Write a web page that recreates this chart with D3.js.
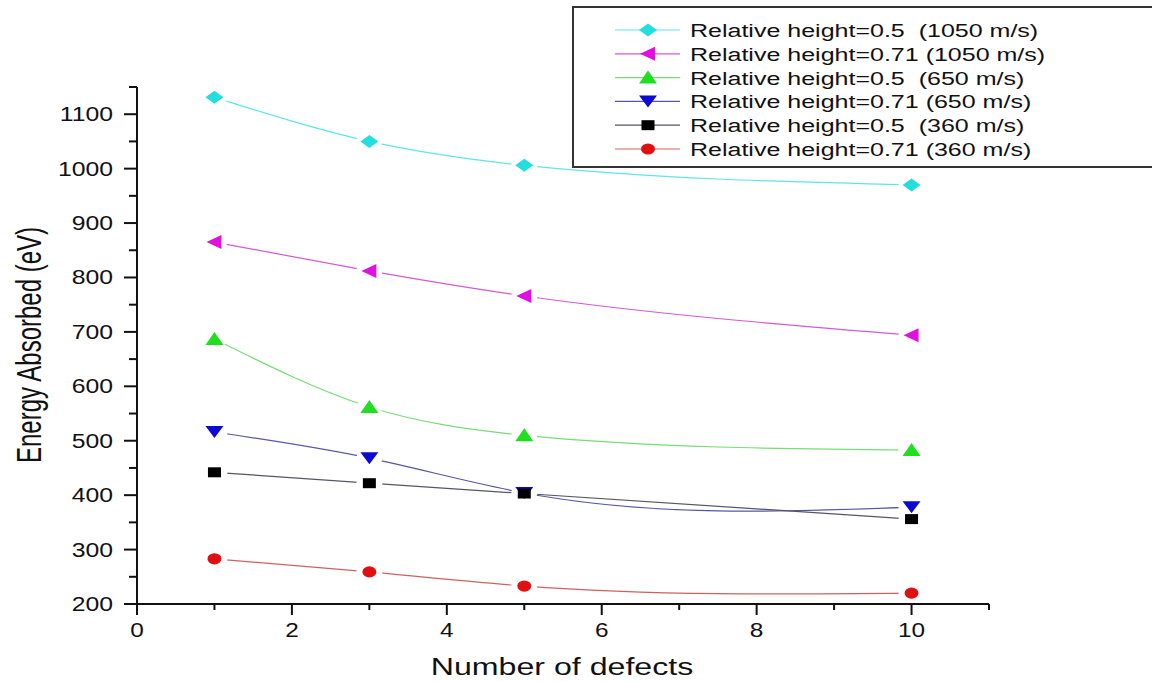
<!DOCTYPE html>
<meta charset="utf-8">
<script src="https://d3js.org/d3.v7.min.js"></script>
<style>
  body { margin: 0; background: #fff; }
  text { font-family: "Liberation Sans", Arial, sans-serif; fill: #111; }
</style>
<body>
<div id="my_dataviz"></div>
<script>
// data
var defects = [1, 3, 5, 10];
var h05_1050 = [1131, 1050, 1006, 970];
var h071_1050 = [865, 812, 766, 694];
var h05_650 = [687, 562, 510, 483];
var h071_650 = [516, 468, 404, 378];
var h05_360 = [442, 422, 403, 356];
var h071_360 = [283, 259, 233, 220];
var seriesNames = [
  "Relative height=0.5  (1050 m/s)",
  "Relative height=0.71 (1050 m/s)",
  "Relative height=0.5  (650 m/s)",
  "Relative height=0.71 (650 m/s)",
  "Relative height=0.5  (360 m/s)",
  "Relative height=0.71 (360 m/s)"
];
var xTicks = [0, 2, 4, 6, 8, 10];
var yTicks = [200, 300, 400, 500, 600, 700, 800, 900, 1000, 1100];

var series = [
  {name: seriesNames[0], values: h05_1050, line: "#5ee6e6", fill: "#22dede", sym: "diamond"},
  {name: seriesNames[1], values: h071_1050, line: "#d35ad3", fill: "#e010e0", sym: "left"},
  {name: seriesNames[2], values: h05_650, line: "#77dd77", fill: "#1ee01e", sym: "up"},
  {name: seriesNames[3], values: h071_650, line: "#5555aa", fill: "#0a0ad0", sym: "down"},
  {name: seriesNames[4], values: h05_360, line: "#555566", fill: "#000000", sym: "square"},
  {name: seriesNames[5], values: h071_360, line: "#d06060", fill: "#e01010", sym: "circle"}
];

var W = 1152, H = 682;
var svg = d3.select("#my_dataviz").append("svg")
  .attr("width", W).attr("height", H);

var x = d3.scaleLinear().domain([0, 11]).range([137, 989]);
var y = d3.scaleLinear().domain([200, 1150]).range([604, 87]);

// natural cubic spline in x (like Origin's "spline" connector), as a d3 curve
function curveSplineX(context) {
  var xs, ys;
  return {
    areaStart: function() {}, areaEnd: function() {},
    lineStart: function() { xs = []; ys = []; },
    point: function(px, py) { xs.push(+px); ys.push(+py); },
    lineEnd: function() {
      var n = xs.length;
      if (!n) return;
      context.moveTo(xs[0], ys[0]);
      if (n < 3) { if (n == 2) context.lineTo(xs[1], ys[1]); return; }
      var h = [], M = new Array(n).fill(0), i;
      for (i = 0; i < n - 1; i++) h.push(xs[i + 1] - xs[i]);
      // tridiagonal solve for second derivatives, M0 = Mn-1 = 0
      var a = [], b = [], c = [], r = [];
      for (i = 1; i < n - 1; i++) {
        a.push(h[i - 1]); b.push(2 * (h[i - 1] + h[i])); c.push(h[i]);
        r.push(6 * ((ys[i + 1] - ys[i]) / h[i] - (ys[i] - ys[i - 1]) / h[i - 1]));
      }
      var m = b.length;
      for (i = 1; i < m; i++) {
        var w = a[i] / b[i - 1];
        b[i] -= w * c[i - 1]; r[i] -= w * r[i - 1];
      }
      var sol = new Array(m);
      sol[m - 1] = r[m - 1] / b[m - 1];
      for (i = m - 2; i >= 0; i--) sol[i] = (r[i] - c[i] * sol[i + 1]) / b[i];
      for (i = 0; i < m; i++) M[i + 1] = sol[i];
      for (i = 0; i < n - 1; i++) {
        var s = (ys[i + 1] - ys[i]) / h[i];
        var m0 = s - h[i] * (2 * M[i] + M[i + 1]) / 6;
        var m1 = s + h[i] * (M[i] + 2 * M[i + 1]) / 6;
        context.bezierCurveTo(
          xs[i] + h[i] / 3, ys[i] + m0 * h[i] / 3,
          xs[i + 1] - h[i] / 3, ys[i + 1] - m1 * h[i] / 3,
          xs[i + 1], ys[i + 1]);
      }
    }
  };
}

// marker shapes (picture is stretched horizontally, so the shapes are too)
function markerPath(sym) {
  if (sym == "diamond") return "M-9,0L0,-6.5L9,0L0,6.5Z";
  if (sym == "left") return "M-8,0L7,-7L7,7Z";
  if (sym == "up") return "M-9,6L0,-7L9,6Z";
  if (sym == "down") return "M-9,-6L0,6L9,-6Z";
  if (sym == "square") return "M-6.5,-5L6.5,-5L6.5,5L-6.5,5Z";
  return "M-7,0A7,5.6 0 1,0 7,0A7,5.6 0 1,0 -7,0Z";
}

// axes
var yAxis = svg.append("g").attr("transform", "translate(137,0)");
yAxis.append("line").attr("x1", 0).attr("x2", 0)
  .attr("y1", y(1150)).attr("y2", y(200))
  .attr("stroke", "#111").attr("stroke-width", 2);
var yMinor = d3.range(250, 1151, 100);
yAxis.selectAll(".minor").data(yMinor).enter().append("line")
  .attr("x1", -8).attr("x2", 0)
  .attr("y1", d => y(d)).attr("y2", d => y(d))
  .attr("stroke", "#111").attr("stroke-width", 2);
yAxis.selectAll(".major").data(yTicks).enter().append("line")
  .attr("x1", -13).attr("x2", 0)
  .attr("y1", d => y(d)).attr("y2", d => y(d))
  .attr("stroke", "#111").attr("stroke-width", 2);
yAxis.selectAll(".lab").data(yTicks).enter().append("text")
  .attr("transform", d => "translate(-24," + (y(d) + 7) + ") scale(1.27,1)")
  .attr("text-anchor", "end")
  .style("font-size", "19.5px")
  .text(d => d);

var xAxis = svg.append("g").attr("transform", "translate(0,604)");
xAxis.append("line").attr("x1", x(0)).attr("x2", x(11))
  .attr("y1", 0).attr("y2", 0)
  .attr("stroke", "#111").attr("stroke-width", 2);
var xMinor = d3.range(1, 12, 2);
xAxis.selectAll(".minor").data(xMinor).enter().append("line")
  .attr("x1", d => x(d)).attr("x2", d => x(d))
  .attr("y1", 0).attr("y2", 6)
  .attr("stroke", "#111").attr("stroke-width", 2);
xAxis.selectAll(".major").data(xTicks).enter().append("line")
  .attr("x1", d => x(d)).attr("x2", d => x(d))
  .attr("y1", 0).attr("y2", 11)
  .attr("stroke", "#111").attr("stroke-width", 2);
xAxis.selectAll(".lab").data(xTicks).enter().append("text")
  .attr("transform", d => "translate(" + x(d) + ",33) scale(1.25,1)")
  .attr("text-anchor", "middle")
  .style("font-size", "19.5px")
  .text(d => d);

// titles
svg.append("text")
  .attr("transform", "translate(562,675) scale(1.34,1)")
  .attr("text-anchor", "middle")
  .style("font-size", "24px")
  .text("Number of defects");
svg.append("text")
  .attr("transform", "translate(41,345) rotate(-90) scale(1,1.45)")
  .attr("text-anchor", "middle")
  .style("font-size", "24px")
  .text("Energy Absorbed (eV)");

// lines with gaps around markers (masks)
var defs = svg.append("defs");
var line = d3.line()
  .x((d, i) => x(defects[i]))
  .y(d => y(d))
  .curve(curveSplineX);

series.forEach(function(s, k) {
  var m = defs.append("mask").attr("id", "gap" + k)
    .attr("maskUnits", "userSpaceOnUse")
    .attr("x", 0).attr("y", 0).attr("width", W).attr("height", H);
  m.append("rect").attr("width", W).attr("height", H).attr("fill", "#fff");
  m.selectAll("ellipse").data(s.values).enter().append("ellipse")
    .attr("cx", (d, i) => x(defects[i])).attr("cy", d => y(d))
    .attr("rx", 13).attr("ry", 9).attr("fill", "#000");
});

var plot = svg.append("g");
series.forEach(function(s, k) {
  plot.append("path")
    .datum(s.values)
    .attr("d", line)
    .attr("fill", "none")
    .attr("stroke", s.line)
    .attr("stroke-width", 1.2)
    .attr("mask", "url(#gap" + k + ")");
});
series.forEach(function(s) {
  plot.selectAll(null).data(s.values).enter().append("path")
    .attr("d", markerPath(s.sym))
    .attr("transform", (d, i) => "translate(" + x(defects[i]) + "," + y(d) + ")")
    .attr("fill", s.fill);
});

// legend
var legend = svg.append("g");
legend.append("rect")
  .attr("x", 573).attr("y", 7).attr("width", 600).attr("height", 160)
  .attr("fill", "#fff").attr("stroke", "#333").attr("stroke-width", 2);
var rows = legend.selectAll(".row").data(series).enter().append("g")
  .attr("transform", (d, i) => "translate(0," + (30 + i * 23.8) + ")");
rows.append("line")
  .attr("x1", 615).attr("x2", 680).attr("y1", 0).attr("y2", 0)
  .attr("stroke", d => d.line).attr("stroke-width", 1.2);
rows.append("path")
  .attr("d", d => markerPath(d.sym))
  .attr("transform", "translate(648,0)")
  .attr("fill", d => d.fill);
rows.append("text")
  .attr("transform", "translate(690,7) scale(1.39,1)")
  .style("font-size", "18px")
  .style("white-space", "pre")
  .attr("xml:space", "preserve")
  .text(d => d.name);
</script>
</body>
